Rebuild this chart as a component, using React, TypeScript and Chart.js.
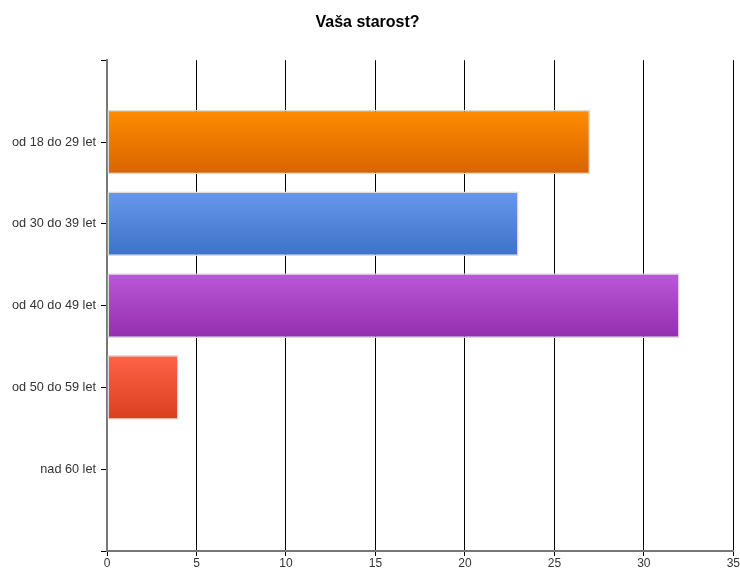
import React, { useEffect, useRef } from "react";
import { Chart, registerables } from "chart.js";

Chart.register(...registerables);

const title = "Vaša starost?";
const categories = ["", "od 18 do 29 let", "od 30 do 39 let", "od 40 do 49 let", "od 50 do 59 let", "nad 60 let", ""];
const values = [null, 27, 23, 32, 4, 0, null];
const topColors = ["#ffffff", "#ff8c00", "#6898ec", "#b958d9", "#ff6248", "#cccccc", "#ffffff"];
const bottomColors = ["#ffffff", "#d96400", "#3d72c8", "#942fae", "#d9401f", "#999999", "#ffffff"];
const xTicks = [0, 5, 10, 15, 20, 25, 30, 35];

export default function App() {
  const ref = useRef<HTMLCanvasElement | null>(null);
  useEffect(() => {
    document.body.style.margin = "0";
    const canvas = ref.current;
    if (!canvas) return;
    const font = "'Liberation Sans', Arial, sans-serif";
    const chart = new Chart(canvas, {
      type: "bar",
      data: {
        labels: categories,
        datasets: [
          {
            data: values as any,
            backgroundColor: (ctx: any) => {
              const c = ctx.chart;
              const ys = c.scales && c.scales.y;
              const i = ctx.dataIndex;
              if (!ys || !c.chartArea || i === undefined) return topColors[i] || "#ccc";
              const yc = ys.getPixelForValue(i);
              const g = c.ctx.createLinearGradient(0, yc - 32, 0, yc + 32);
              g.addColorStop(0, topColors[i]);
              g.addColorStop(1, bottomColors[i]);
              return g;
            },
            borderColor: "#dcdcdc",
            borderWidth: 1.5,
            borderSkipped: false,
            categoryPercentage: 1,
            barPercentage: 0.79,
          },
        ],
      },
      options: {
        indexAxis: "y",
        responsive: false,
        animation: false,
        layout: { padding: { left: 0, right: 5, top: 0, bottom: 0 } },
        plugins: {
          legend: { display: false },
          tooltip: { enabled: false },
          title: {
            display: true,
            text: title,
            color: "#000",
            font: { family: font, size: 16, weight: "bold" },
            padding: { top: 13, bottom: 28 },
          },
        },
        scales: {
          x: {
            type: "linear",
            min: 0,
            max: 35,
            afterBuildTicks: (s: any) => {
              s.ticks = xTicks.map((v) => ({ value: v }));
            },
            afterFit: (s: any) => {
              s.height = 19;
            },
            grid: {
              color: "#000",
              lineWidth: 1,
              drawTicks: true,
              tickLength: 5,
              tickColor: "#000",
            },
            border: { color: "#777", width: 2 },
            ticks: {
              color: "#333",
              padding: 0,
              font: { family: font, size: 12 },
              maxRotation: 0,
            },
          },
          y: {
            type: "category",
            offset: false,
            afterFit: (s: any) => {
              s.width = 107;
            },
            grid: {
              offset: false,
              drawOnChartArea: false,
              drawTicks: true,
              tickLength: 6,
              tickColor: "#000",
            },
            border: { color: "#777", width: 2 },
            ticks: {
              color: "#333",
              padding: 5,
              autoSkip: false,
              font: { family: font, size: 12.7 },
            },
          },
        },
      },
    });
    return () => chart.destroy();
  }, []);
  return (
    <div style={{ width: 740, height: 570, background: "#fff" }}>
      <canvas ref={ref} width={740} height={570} style={{ display: "block" }} />
    </div>
  );
}
